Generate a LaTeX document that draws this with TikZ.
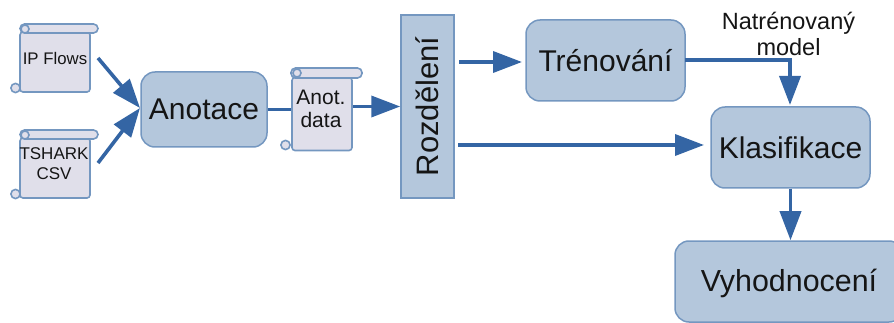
\documentclass[tikz,border=0pt]{standalone}
\usepackage{fontspec}
\setmainfont{Liberation Sans}
\usetikzlibrary{arrows.meta,calc}
\definecolor{boxfill}{HTML}{B4C7DC}
\definecolor{boxline}{HTML}{7497C0}
\definecolor{scrollfill}{HTML}{E0DFEA}
\definecolor{flow}{HTML}{3465A4}
\definecolor{ink}{HTML}{151515}
\tikzset{
  procbox/.style={draw=boxline,fill=boxfill,line width=1.5pt,rounded corners=14pt,inner sep=0pt,text=ink,font=\fontsize{30}{34}\selectfont},
  splitbox/.style={draw=boxline,fill=boxfill,line width=1.5pt,inner sep=0pt,text=ink,font=\fontsize{31}{34}\selectfont},
  scrollbody/.style={draw=boxline,fill=scrollfill,line width=1.6pt,rounded corners=3pt,inner sep=0pt},
  scrollpart/.style={draw=boxline,fill=scrollfill,line width=1.6pt},
  scrollbar/.style={scrollpart,rounded corners=4.5pt},
  scrolltext/.style={inner sep=0pt,text=ink,align=center},
  flowline/.style={draw=flow,line width=3.6pt},
  flowarrow/.style={flowline,-{Triangle[length=29pt,width=21pt]}},
  caption/.style={inner sep=0pt,text=ink,align=center,font=\fontsize{23.5}{26}\selectfont}
}
\begin{document}
\begin{tikzpicture}[x=1pt,y=-1pt]
\useasboundingbox (0,0) rectangle (894,323);
\clip (0,0) rectangle (894,323);

% scroll nodes
\node[scrollbody,minimum width=70pt,minimum height=60pt] (ip) at (55,62) {};
\node[scrolltext,font=\fontsize{16.8}{19}\selectfont] (iplabel) at (55,58) {IP Flows};
\draw[scrollbar] (20,24) rectangle (98,33);
\draw[scrollpart] (25,29) circle (4pt);
\draw[scrollpart] (15.5,88) circle (4.6pt);

\node[scrollbody,minimum width=70pt,minimum height=60pt] (ts) at (55,168) {};
\node[scrolltext,font=\fontsize{17}{20}\selectfont] (tslabel) at (54,164) {TSHARK\\CSV};
\draw[scrollbar] (20,130) rectangle (98,139);
\draw[scrollpart] (25,135) circle (4pt);
\draw[scrollpart] (15.5,194) circle (4.6pt);

\node[scrollbody,minimum width=60pt,minimum height=73pt] (ad) at (322,114) {};
\node[scrolltext,font=\fontsize{21}{23.5}\selectfont] (adlabel) at (321,109) {Anot.\\data};
\draw[scrollbar] (291,68) rectangle (362,78);
\draw[scrollpart] (297,73) circle (4pt);
\draw[scrollpart] (285.5,145) circle (4.6pt);

% process nodes
\node[procbox,minimum width=126pt,minimum height=75pt] (an) at (204,109.5) {Anotace};
\node[splitbox,minimum width=53pt,minimum height=183pt] (roz) at (427.5,106.5) {\rotatebox{90}{Rozdělení}};
\node[procbox,minimum width=159pt,minimum height=81pt] (tr) at (605.5,60.5) {Trénování};
\node[procbox,minimum width=159pt,minimum height=81pt] (kl) at (790.5,147.5) {Klasifikace};
\node[procbox,minimum width=228pt,minimum height=81pt] (vy) at (789,281.5) {};
\node[inner sep=0pt,text=ink,font=\fontsize{30.4}{34}\selectfont] (vylabel) at (789,283) {Vyhodnocení};
\node[caption] (nm) at (788.5,34) {Natrénovaný\\model};

% connector anchors
\coordinate (ipout) at (98,58);
\coordinate (tsout) at (98,163);
\coordinate (anin) at (140,108);
\coordinate (rozoutA) at (459,62);
\coordinate (trin) at (522,62);
\coordinate (rozoutB) at (458,145);
\coordinate (klinB) at (704,145);
\coordinate (trout) at (685,60);
\coordinate (klin) at (790,105);

% connectors
\draw[flowarrow] (ipout) -- (anin);
\draw[flowarrow] (tsout) -- (anin);
\draw[flowline] (an.east) -- (ad.west |- an.east);
\draw[flowarrow] (ad.east |- roz.west) -- (roz.west);
\draw[flowarrow] (rozoutA) -- (trin);
\draw[flowarrow] (rozoutB) -- (klinB);
\draw[flowarrow] (trout) -| (klin);
\draw[flowarrow] (kl.south) -- (kl.south |- vy.north);
\end{tikzpicture}
\end{document}
